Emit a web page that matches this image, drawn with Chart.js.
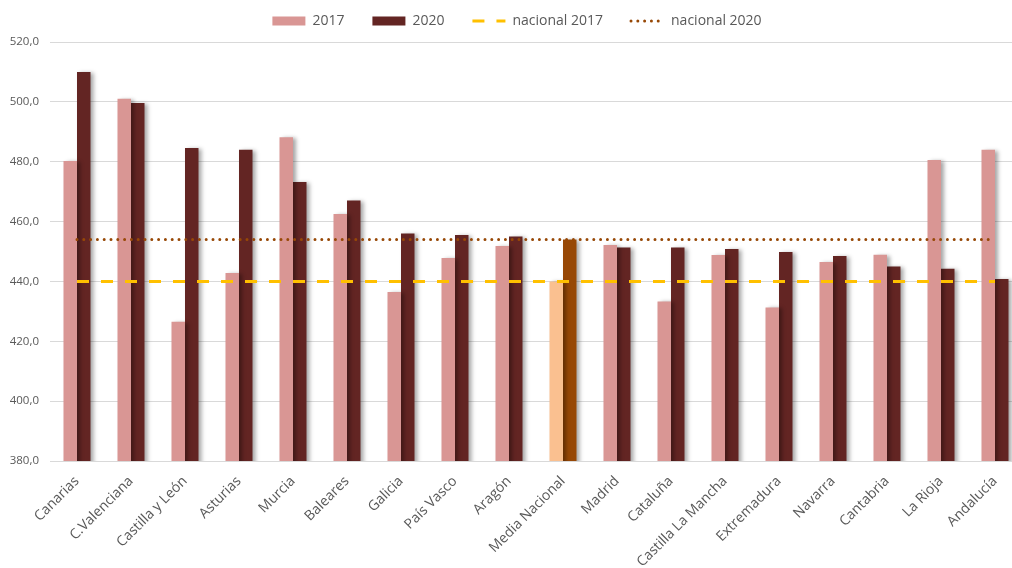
<!DOCTYPE html>
<html>
<head>
<meta charset="utf-8">
<script src="https://cdn.jsdelivr.net/npm/chart.js@4"></script>
<style>
  html, body { margin: 0; padding: 0; background: #fff; overflow: hidden; }
  #wrap { width: 1022px; height: 568px; }
</style>
</head>
<body>
<div id="wrap"><canvas id="chart"></canvas></div>
<script>
const REGIONS = ['Canarias', 'C.Valenciana', 'Castilla y León', 'Asturias', 'Murcia', 'Baleares',
  'Galicia', 'País Vasco', 'Aragón', 'Media Nacional', 'Madrid', 'Cataluña', 'Castilla La Mancha',
  'Extremadura', 'Navarra', 'Cantabria', 'La Rioja', 'Andalucía'];
const SCORES_2017 = [480.2, 501.0, 426.5, 442.8, 488.2, 462.5, 436.5, 447.8, 451.8, 440.0,
  452.2, 433.3, 448.8, 431.3, 446.5, 448.9, 480.6, 484.0];
const SCORES_2020 = [510.0, 499.6, 484.6, 484.0, 473.2, 467.0, 456.0, 455.5, 455.0, 454.0,
  451.3, 451.3, 450.8, 449.8, 448.5, 445.0, 444.2, 440.8];
const NATIONAL_2017 = 440;
const NATIONAL_2020 = 454;
const Y_MIN = 380;
const Y_MAX = 520;
const Y_STEP = 20;

const MEDIA = REGIONS.indexOf('Media Nacional');
const TEXT = '#595959';

// soft drop shadow behind the bars only
const barShadow = {
  id: 'barShadow',
  beforeDatasetDraw(chart, args) {
    if (args.meta.type !== 'bar') return;
    const ctx = chart.ctx;
    ctx.save();
    ctx.shadowColor = 'rgba(0,0,0,0.35)';
    ctx.shadowBlur = 4;
    ctx.shadowOffsetX = 3;
    ctx.shadowOffsetY = 1;
  },
  afterDatasetDraw(chart, args) {
    if (args.meta.type !== 'bar') return;
    chart.ctx.restore();
  }
};

// nudge the legend a little up and right, like the original
const legendNudge = {
  id: 'legendNudge',
  afterLayout(chart) {
    const lg = chart.legend;
    lg.top -= 4;
    lg.bottom -= 4;
    lg.left += 6;
    lg.right += 6;
  }
};

const refLine = (value) => [
  { x: REGIONS[0], y: value },
  { x: REGIONS[REGIONS.length - 1], y: value }
];

const data = {
  labels: REGIONS,
  datasets: [{
    label: '2017',
    data: SCORES_2017,
    backgroundColor: ctx => ctx.dataIndex === MEDIA ? '#FAC090' : '#D99694',
    order: 2
  },
  {
    label: '2020',
    data: SCORES_2020,
    backgroundColor: ctx => ctx.dataIndex === MEDIA ? '#974806' : '#632523',
    order: 2
  },
  {
    type: 'line',
    label: 'nacional 2017',
    data: refLine(NATIONAL_2017),
    borderColor: '#FFC000',
    backgroundColor: '#FFC000',
    borderWidth: 3,
    borderDash: [12, 12],
    pointRadius: 0,
    order: 1
  },
  {
    type: 'line',
    label: 'nacional 2020',
    data: refLine(NATIONAL_2020),
    borderColor: '#974806',
    backgroundColor: '#974806',
    borderWidth: 3,
    borderDash: [0, 6.8],
    borderCapStyle: 'round',
    pointRadius: 0,
    order: 0
  }]
};

const options = {
  responsive: true,
  maintainAspectRatio: false,
  animation: false,
  datasets: {
    bar: { categoryPercentage: 0.5, barPercentage: 1.0 }
  },
  layout: { padding: { top: -10, right: 0, left: 0, bottom: 0 } },
  plugins: {
    tooltip: { enabled: false },
    legend: {
      position: 'top',
      align: 'center',
      labels: {
        color: TEXT,
        font: { family: 'Open Sans', size: 14 },
        usePointStyle: true,
        pointStyleWidth: 33,
        boxHeight: 9,
        padding: 28,
        generateLabels: chart => Chart.defaults.plugins.legend.labels.generateLabels(chart)
          .map(item => {
            const ds = chart.data.datasets[item.datasetIndex];
            if (ds.type === 'line') {
              item.pointStyle = 'line';
              item.lineWidth = ds.borderWidth;
              item.lineDash = ds.borderDash;
              item.lineCap = ds.borderCapStyle || 'butt';
              item.strokeStyle = ds.borderColor;
            } else {
              item.pointStyle = 'rect';
              item.lineWidth = 0;
            }
            return item;
          })
          .sort((a, b) => a.datasetIndex - b.datasetIndex)
      }
    }
  },
  scales: {
    x: {
      grid: { display: false },
      border: { display: false },
      ticks: {
        color: TEXT,
        font: { family: 'Open Sans', size: 14 },
        minRotation: 45,
        maxRotation: 45,
        padding: 4
      },
      afterFit: scale => { scale.height = 107; }
    },
    y: {
      min: Y_MIN,
      max: Y_MAX,
      grid: { color: '#D9D9D9', drawTicks: false },
      border: { display: false },
      ticks: {
        stepSize: Y_STEP,
        color: TEXT,
        font: { family: 'Open Sans', size: 11.5 },
        padding: 11,
        callback: v => v.toFixed(1).replace('.', ',')
      },
      afterFit: scale => { scale.width = 50; }
    }
  }
};

new Chart(document.getElementById('chart'), {
  type: 'bar',
  data,
  options,
  plugins: [barShadow, legendNudge]
});
</script>
</body>
</html>
